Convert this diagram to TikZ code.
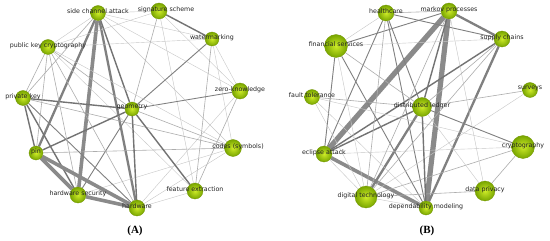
\documentclass[tikz,border=0pt]{standalone}
\usepackage{fontspec}
\setmainfont{Liberation Serif}
\newfontfamily\lblfont{DejaVu Sans}
\pgfdeclarelayer{bg}
\pgfdeclarelayer{edges}
\pgfsetlayers{bg,edges,main}
\definecolor{ballin}{RGB}{205,235,40}
\definecolor{ballout}{RGB}{120,165,0}
\tikzset{
  kw/.style={circle, inner sep=0pt, minimum size=#1, shading=radial,
    inner color=ballin, outer color=ballout, draw={rgb,255:red,115;green,150;blue,0}, line width=0.3pt},
  kw/.default=15pt,
  lbl/.style={font=\lblfont\fontsize{6.3}{7}\selectfont, text={rgb,255:red,35;green,35;blue,35}, inner sep=0pt},
  ea/.style={line width=0.4pt, draw=black!22},
  eb/.style={line width=0.6pt, draw=black!32},
  ec/.style={line width=0.9pt, draw=black!50},
  ed/.style={line width=1.4pt, draw=black!55},
  ee/.style={line width=2.3pt, draw=black!50},
  ef/.style={line width=3.6pt, draw=black!46},
  eg/.style={line width=5.2pt, draw=black!46},
  panel/.style={font=\bfseries\fontsize{11}{13}\selectfont, inner sep=0pt},
}
\newcommand{\kwnode}[5]{% name, x, y, size, label
  \node[kw=#4, label={[lbl, yshift=1.6pt]center:#5}] (#1) at (#2,#3) {};}
\begin{document}
\begin{tikzpicture}[x=1pt, y=-1pt]
\begin{pgfonlayer}{bg}
\fill[white] (0,0) rectangle (550,241);
\end{pgfonlayer}
\useasboundingbox (0,0) rectangle (550,241);
% ---------- Panel A ----------
\kwnode{sca}{98}{13}{15pt}{side channel attack}
\kwnode{sig}{159}{11}{16pt}{\hspace*{14pt}signature scheme}
\kwnode{wat}{212}{39}{14pt}{watermarking}
\kwnode{zk}{240}{91}{16pt}{zero-knowledge}
\kwnode{cod}{233}{148}{17pt}{\hspace*{10pt}codes (symbols)}
\kwnode{fe}{195}{191}{16pt}{feature extraction}
\kwnode{hw}{137}{208}{16pt}{hardware}
\kwnode{hs}{78}{195}{16pt}{hardware security}
\kwnode{pin}{36}{153}{14pt}{pin}
\kwnode{pk}{23}{98}{15pt}{private key}
\kwnode{pkc}{48}{47}{15pt}{public key cryptography}
\kwnode{geo}{132}{109}{14pt}{geometry}
\node[panel] (pa) at (135,231) {(A)};
% ---------- Panel B ----------
\kwnode{hc}{386}{13}{16pt}{healthcare}
\kwnode{mp}{449}{11}{16pt}{markov processes}
\kwnode{sc}{502}{39}{16pt}{supply chains}
\kwnode{sv}{530}{90}{15pt}{surveys}
\kwnode{cr}{523}{147}{23pt}{cryptography}
\kwnode{dp}{485}{191}{20pt}{data privacy}
\kwnode{dm}{426}{208}{14pt}{dependability modeling}
\kwnode{dt}{366}{197}{22pt}{digital technology}
\kwnode{eat}{324}{154}{16pt}{eclipse attack}
\kwnode{ft}{312}{97}{15pt}{fault tolerance}
\kwnode{fs}{336}{46}{23pt}{financial services}
\kwnode{dl}{422}{107}{19pt}{distributed ledger}
\node[panel] (pb) at (427,231) {(B)};
\begin{pgfonlayer}{edges}
% Panel A edges
\draw[ea] (sca) -- (pkc);
\draw[ea] (sca) -- (sig);
\draw[ea] (sca) -- (wat);
\draw[ea] (sca) -- (zk);
\draw[ea] (sca) -- (cod);
\draw[eb] (sca) -- (pk);
\draw[ed] (sca) -- (geo);
\draw[ee] (sca) -- (hw);
\draw[ee] (sca) -- (pin);
\draw[ef] (sca) -- (hs);
\draw[ed] (sig) -- (wat);
\draw[ea] (sig) -- (zk);
\draw[eb] (sig) -- (geo);
\draw[ea] (sig) -- (fe);
\draw[ea] (sig) -- (pkc);
\draw[ec] (wat) -- (geo);
\draw[ea] (wat) -- (pkc);
\draw[ea] (wat) -- (cod);
\draw[eb] (wat) -- (fe);
\draw[ea] (wat) -- (zk);
\draw[ec] (zk) -- (geo);
\draw[eb] (zk) -- (fe);
\draw[ea] (zk) -- (hw);
\draw[eb] (cod) -- (pin);
\draw[ea] (cod) -- (hs);
\draw[ea] (cod) -- (hw);
\draw[eb] (cod) -- (pk);
\draw[eb] (cod) -- (geo);
\draw[ea] (cod) -- (pkc);
\draw[ed] (fe) -- (geo);
\draw[ea] (fe) -- (hw);
\draw[ea] (fe) -- (pkc);
\draw[ed] (geo) -- (pk);
\draw[ec] (geo) -- (hs);
\draw[ed] (geo) -- (hw);
\draw[ed] (geo) -- (pin);
\draw[eb] (geo) -- (pkc);
\draw[ed] (pk) -- (pin);
\draw[ed] (pk) -- (hs);
\draw[ec] (pk) -- (hw);
\draw[eb] (pk) -- (pkc);
\draw[eb] (pkc) -- (pin);
\draw[eb] (pkc) -- (hs);
\draw[eb] (pkc) -- (hw);
\draw[ef] (pin) -- (hw);
\draw[ef] (pin) -- (hs);
\draw[ef] (hs) -- (hw);
% Panel B edges
\draw[eg] (mp) -- (eat);
\draw[eg] (mp) -- (dm);
\draw[ef] (eat) -- (dm);
\draw[ee] (mp) -- (sc);
\draw[ee] (sc) -- (dm);
\draw[ed] (sc) -- (eat);
\draw[ed] (dl) -- (eat);
\draw[ee] (dl) -- (dt);
\draw[ed] (mp) -- (dl);
\draw[ec] (hc) -- (sc);
\draw[eb] (hc) -- (mp);
\draw[ec] (fs) -- (mp);
\draw[ec] (hc) -- (eat);
\draw[ec] (hc) -- (dl);
\draw[ec] (hc) -- (dm);
\draw[eb] (hc) -- (dt);
\draw[ea] (hc) -- (fs);
\draw[ec] (fs) -- (eat);
\draw[ec] (fs) -- (dm);
\draw[eb] (fs) -- (dl);
\draw[ea] (fs) -- (sc);
\draw[ea] (fs) -- (dt);
\draw[eb] (ft) -- (dl);
\draw[ea] (ft) -- (cr);
\draw[ea] (ft) -- (dt);
\draw[eb] (sv) -- (dl);
\draw[ea] (sv) -- (dt);
\draw[ec] (cr) -- (dl);
\draw[eb] (cr) -- (dt);
\draw[eb] (cr) -- (dp);
\draw[ea] (cr) -- (eat);
\draw[eb] (dp) -- (dt);
\draw[ea] (dp) -- (dl);
\draw[ea] (dp) -- (mp);
\draw[ed] (dl) -- (dm);
\draw[eb] (dl) -- (sc);
\draw[eb] (sc) -- (dt);
\draw[ea] (dt) -- (dm);
\draw[ea] (eat) -- (dt);
\draw[eb] (mp) -- (dt);
\draw[ea] (ft) -- (dm);
\end{pgfonlayer}
\end{tikzpicture}
\end{document}
